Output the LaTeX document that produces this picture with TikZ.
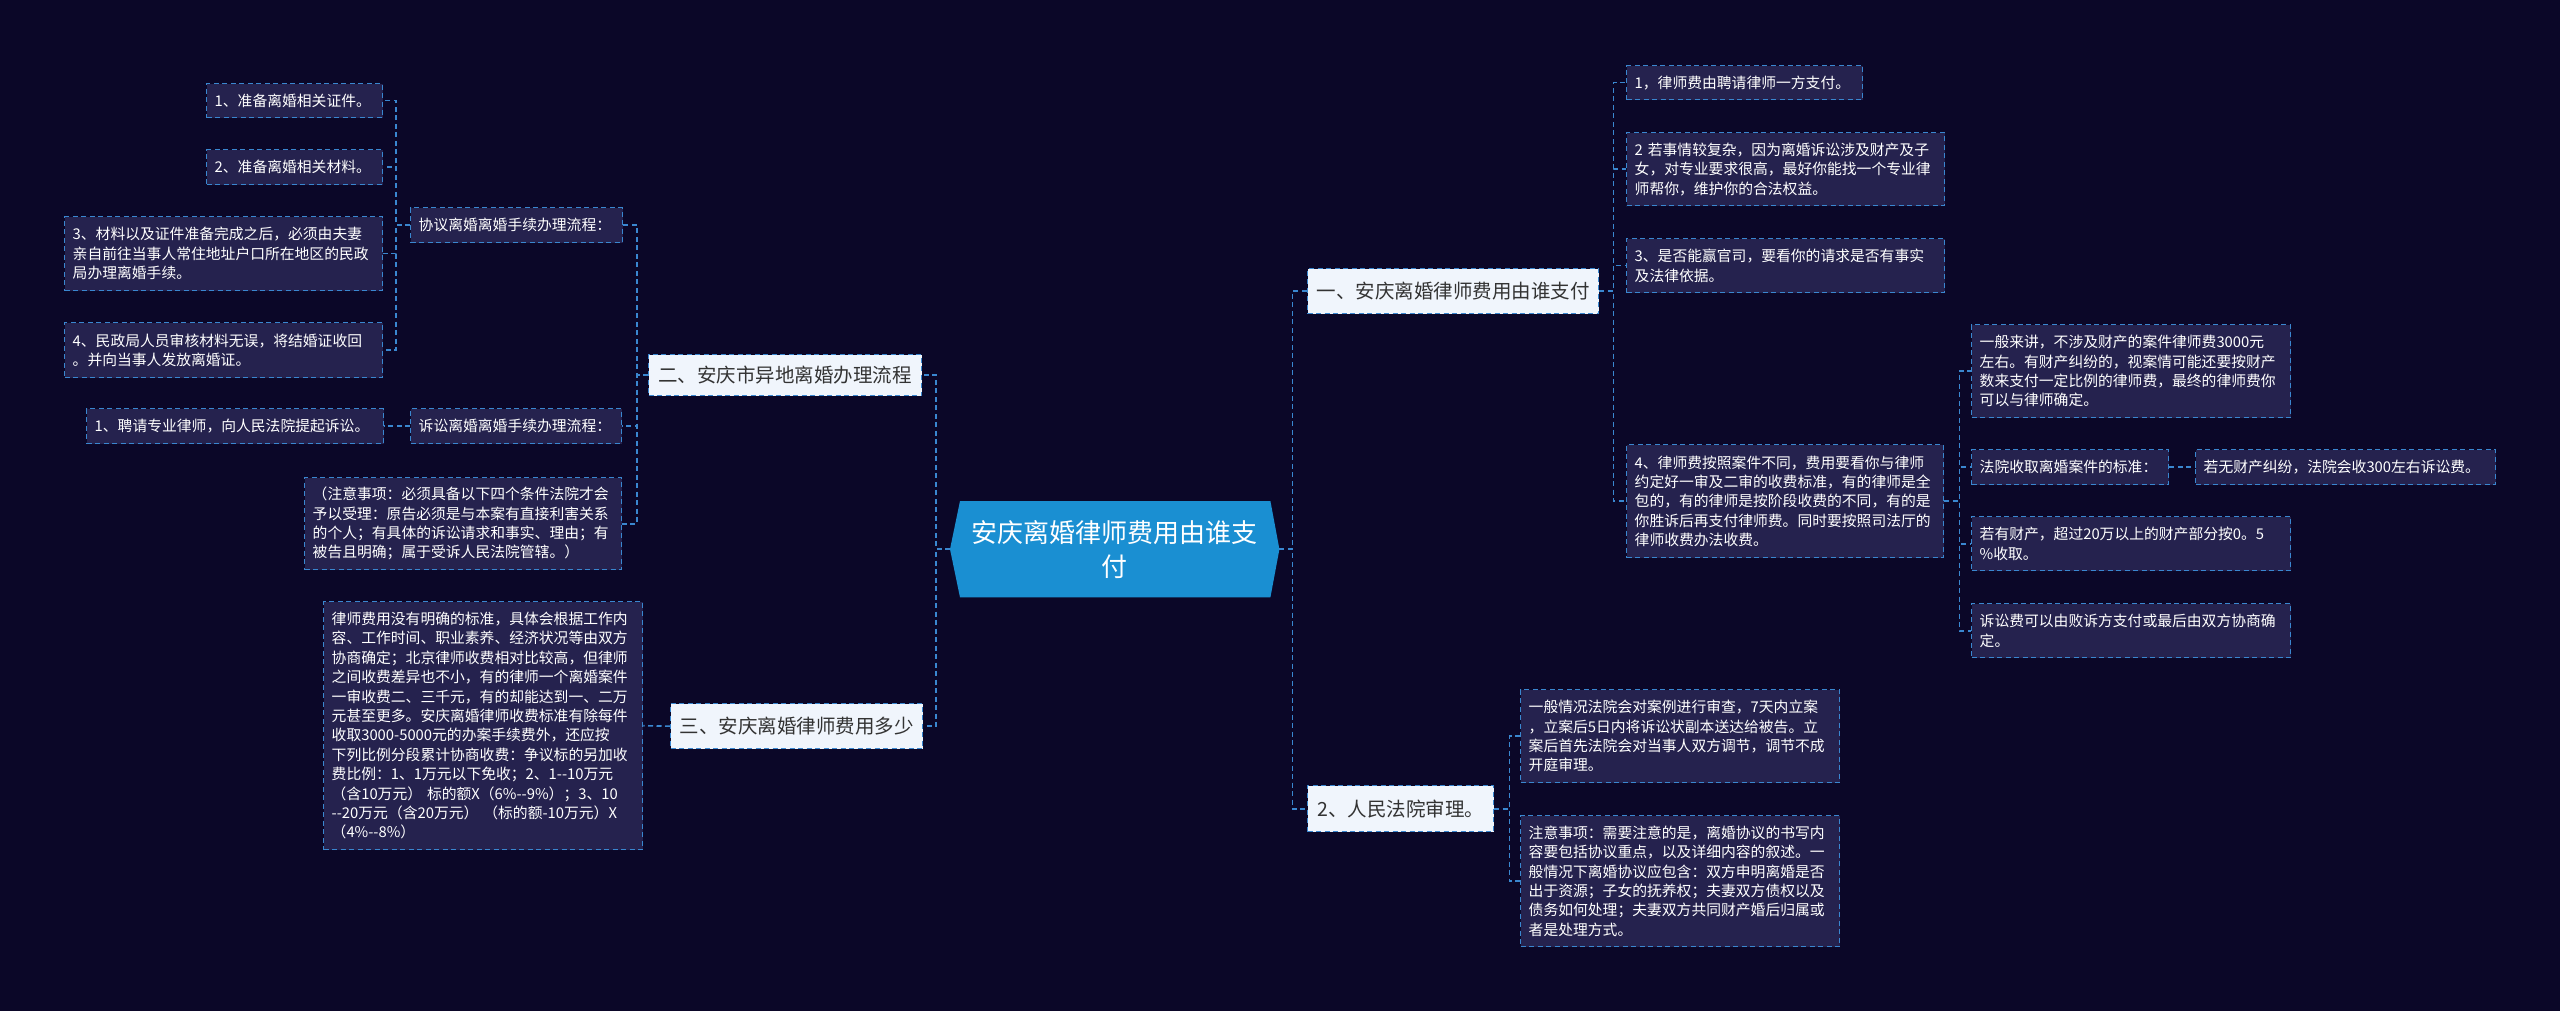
\documentclass[tikz,border=0pt]{standalone}
\usepackage{fontspec}
\newfontfamily\cjk{Noto Sans CJK SC}
\usetikzlibrary{calc,backgrounds}
\definecolor{bgc}{HTML}{0B0728}
\definecolor{lineblue}{HTML}{3A87D0}
\definecolor{leaffill}{HTML}{25224E}
\definecolor{topfill}{HTML}{F0F5FC}
\definecolor{centerfill}{HTML}{1A8FD2}
\definecolor{darktext}{HTML}{333333}
\begin{document}
\begin{tikzpicture}[x=1pt,y=-1pt,
  conn/.style={draw=lineblue, line width=1.6pt, dash pattern=on 5pt off 3.5pt},
  leaf/.style={draw=lineblue, line width=1.4pt, dash pattern=on 5pt off 3.5pt, fill=leaffill, text=white,
    font=\cjk\fontsize{14.8}{19.4}\selectfont, align=left, anchor=north west, inner xsep=8pt, inner ysep=2pt},
  topic/.style={draw=lineblue, line width=1.4pt, dash pattern=on 5pt off 3.5pt, fill=topfill, text=darktext,
    font=\cjk\fontsize{19.5}{24}\selectfont, anchor=north west, inner sep=0pt, align=center},
  rootbox/.style={text=white, font=\cjk\fontsize{26}{34}\selectfont, anchor=north west, inner sep=0pt, align=center}
]
\useasboundingbox (0,0) rectangle (2560,1011);

% centre
\node[rootbox, minimum width=329pt, minimum height=96pt] (root) at (950,501) {安庆离婚律师费用由谁支\\付};

% level 1
\node[topic, minimum width=273pt, minimum height=41pt] (t2) at (648,354) {二、安庆市异地离婚办理流程};
\node[topic, minimum width=252pt, minimum height=45pt] (t3) at (670,703) {三、安庆离婚律师费用多少};
\node[topic, minimum width=291pt, minimum height=45pt] (t1) at (1307,268) {一、安庆离婚律师费用由谁支付};
\node[topic, minimum width=186pt, minimum height=46pt] (t4) at (1307,785) {2、人民法院审理。};

% left leaves
\node[leaf, text width=160pt, minimum height=34pt] (a1) at (206,83) {1、准备离婚相关证件。};
\node[leaf, text width=160pt, minimum height=35pt] (a2) at (206,149) {2、准备离婚相关材料。};
\node[leaf, text width=302pt, minimum height=74pt] (a3) at (64,216) {3、材料以及证件准备完成之后，必须由夫妻\\亲自前往当事人常住地址户口所在地区的民政\\局办理离婚手续。};
\node[leaf, text width=302pt, minimum height=55pt] (a4) at (64,322) {4、民政局人员审核材料无误，将结婚证收回\\。并向当事人发放离婚证。};
\node[leaf, text width=196pt, minimum height=35pt] (xy) at (410,207) {协议离婚离婚手续办理流程：};
\node[leaf, text width=195pt, minimum height=35pt] (ss) at (410,408) {诉讼离婚离婚手续办理流程：};
\node[leaf, text width=281pt, minimum height=35pt] (pq) at (86,408) {1、聘请专业律师，向人民法院提起诉讼。};
\node[leaf, text width=301pt, minimum height=92pt] (zy) at (304,477) {（注意事项：必须具备以下四个条件法院才会\\予以受理：原告必须是与本案有直接利害关系\\的个人；有具体的诉讼请求和事实、理由；有\\被告且明确；属于受诉人民法院管辖。）};
\node[leaf, text width=303pt, minimum height=248pt] (fy) at (323,601) {律师费用没有明确的标准，具体会根据工作内\\容、工作时间、职业素养、经济状况等由双方\\协商确定；北京律师收费相对比较高，但律师\\之间收费差异也不小，有的律师一个离婚案件\\一审收费二、三千元，有的却能达到一、二万\\元甚至更多。安庆离婚律师收费标准有除每件\\收取3000-5000元的办案手续费外，还应按\\下列比例分段累计协商收费：争议标的另加收\\费比例：1、1万元以下免收；2、1-{}-10万元\\（含10万元） 标的额X（6\%-{}-9\%）；3、10\\-{}-20万元（含20万元） （标的额-10万元）X\\（4\%-{}-8\%）};

% right leaves
\node[leaf, text width=220pt, minimum height=34pt] (r1) at (1626,65) {1，律师费由聘请律师一方支付。};
\node[leaf, text width=302pt, minimum height=73pt] (r2) at (1626,132) {2 若事情较复杂，因为离婚诉讼涉及财产及子\\女，对专业要求很高，最好你能找一个专业律\\师帮你，维护你的合法权益。};
\node[leaf, text width=302pt, minimum height=54pt] (r3) at (1626,238) {3、是否能赢官司，要看你的请求是否有事实\\及法律依据。};
\node[leaf, text width=301pt, minimum height=113pt] (r4) at (1626,444) {4、律师费按照案件不同，费用要看你与律师\\约定好一审及二审的收费标准，有的律师是全\\包的，有的律师是按阶段收费的不同，有的是\\你胜诉后再支付律师费。同时要按照司法厅的\\律师收费办法收费。};
\node[leaf, text width=303pt, minimum height=93pt] (s1) at (1971,324) {一般来讲，不涉及财产的案件律师费3000元\\左右。有财产纠纷的，视案情可能还要按财产\\数来支付一定比例的律师费，最终的律师费你\\可以与律师确定。};
\node[leaf, text width=181pt, minimum height=35pt] (s2) at (1971,449) {法院收取离婚案件的标准：};
\node[leaf, text width=284pt, minimum height=35pt] (s3) at (2195,449) {若无财产纠纷，法院会收300左右诉讼费。};
\node[leaf, text width=303pt, minimum height=54pt] (s4) at (1971,516) {若有财产，超过20万以上的财产部分按0。5\\\%收取。};
\node[leaf, text width=303pt, minimum height=54pt] (s5) at (1971,603) {诉讼费可以由败诉方支付或最后由双方协商确\\定。};
\node[leaf, text width=303pt, minimum height=93pt] (u1) at (1520,689) {一般情况法院会对案例进行审查，7天内立案\\，立案后5日内将诉讼状副本送达给被告。立\\案后首先法院会对当事人双方调节，调节不成\\开庭审理。};
\node[leaf, text width=303pt, minimum height=131pt] (u2) at (1520,815) {注意事项：需要注意的是，离婚协议的书写内\\容要包括协议重点，以及详细内容的叙述。一\\般情况下离婚协议应包含：双方申明离婚是否\\出于资源；子女的抚养权；夫妻双方债权以及\\债务如何处理；夫妻双方共同财产婚后归属或\\者是处理方式。};

% connectors
\draw[conn] (root.west) -- ++(-14,0) |- (t2.east);
\draw[conn] (root.west) -- ++(-14,0) |- (t3.east);
\draw[conn] (root.east) -- ++(13,0) |- (t1.west);
\draw[conn] (root.east) -- ++(13,0) |- (t4.west);

\draw[conn] (t2.west) -- ++(-11,0) |- (xy.east);
\draw[conn] (t2.west) -- ++(-11,0) |- (ss.east);
\draw[conn] (t2.west) -- ++(-11,0) |- (zy.east);
\foreach \c in {a1,a2,a3,a4} \draw[conn] (xy.west) -- ++(-14,0) |- (\c.east);
\draw[conn] (ss.west) -- (pq.east);
\draw[conn] (t3.west) -- (fy.east);

\foreach \c in {r1,r2,r3,r4} \draw[conn] (t1.east) -- ++(14,0) |- (\c.west);
\foreach \c in {s1,s2,s4,s5} \draw[conn] (r4.east) -- ++(15,0) |- (\c.west);
\draw[conn] (s2.east) -- (s3.west);
\foreach \c in {u1,u2} \draw[conn] (t4.east) -- ++(15,0) |- (\c.west);

\begin{pgfonlayer}{background}
  \fill[bgc] (0,0) rectangle (2560,1011);
  \fill[centerfill] (root.west) -- ($(root.north west)+(10,0)$) -- ($(root.north east)+(-9,0)$) -- (root.east)
    -- ($(root.south east)+(-9,0)$) -- ($(root.south west)+(10,0)$) -- cycle;
\end{pgfonlayer}
\end{tikzpicture}
\end{document}
